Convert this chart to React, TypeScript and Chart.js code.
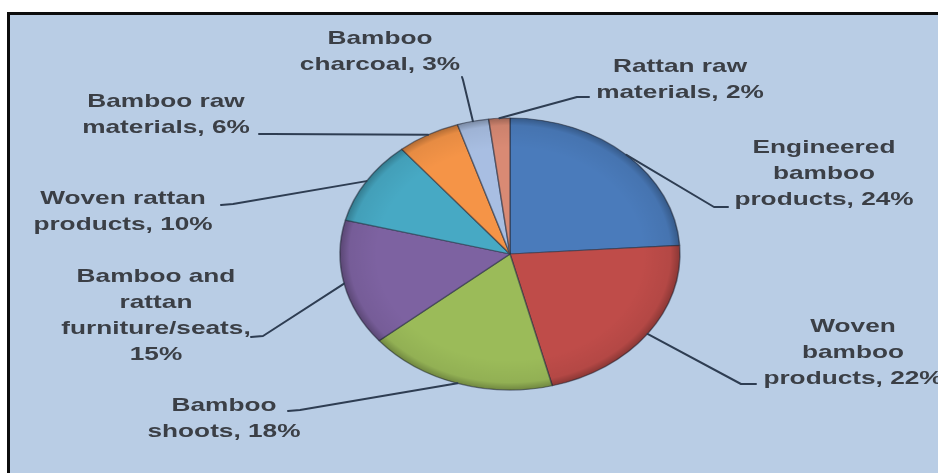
import { useEffect, useRef } from "react";
import { Chart, registerables } from "chart.js";

Chart.register(...registerables);

// Share of bamboo and rattan product exports, by category
const categories = [
  "Engineered bamboo products",
  "Woven bamboo products",
  "Bamboo shoots",
  "Bamboo and rattan furniture/seats",
  "Woven rattan products",
  "Bamboo raw materials",
  "Bamboo charcoal",
  "Rattan raw materials",
];
const shares = [24, 22, 18, 15, 10, 6, 3, 2];
const sliceColors = [
  "#4a7bbb",
  "#bf4c49",
  "#9bbb59",
  "#7d62a1",
  "#47a9c4",
  "#f59447",
  "#a8bee2",
  "#d98a74",
];

// number of words on each line of every label
const labelWraps = [
  [1, 1, 2],
  [1, 1, 2],
  [1, 2],
  [2, 1, 1, 1],
  [2, 2],
  [2, 2],
  [1, 2],
  [2, 2],
];

// label block placement: centre x, first baseline, leader tail and elbow
const labelLayout = [
  { cx: 824, top: 153, tail: [728, 207], elbow: [714, 207] },
  { cx: 853, top: 332, tail: [756, 384], elbow: [741, 384] },
  { cx: 224, top: 411, tail: [288, 411], elbow: [300, 410] },
  { cx: 156, top: 282, tail: [251, 337], elbow: [263, 336] },
  { cx: 123, top: 204, tail: [221, 205], elbow: [233, 204] },
  { cx: 166, top: 107, tail: [259, 134], elbow: [271, 134] },
  { cx: 380, top: 44, tail: [462, 77], elbow: [463, 80] },
  { cx: 680, top: 72, tail: [589, 97], elbow: [577, 97] },
];

const LINE_HEIGHT = 26;
const TEXT_STRETCH = 1.38;
const TILT = 0.8; // vertical squash of the pie (3-D look)

function labelLines(i: number): string[] {
  const words = `${categories[i]}, ${shares[i]}%`.split(" ");
  const out: string[] = [];
  let k = 0;
  for (const n of labelWraps[i]) {
    out.push(words.slice(k, k + n).join(" "));
    k += n;
  }
  return out;
}

const tiltedPie = {
  id: "tiltedPie",
  beforeDatasetsDraw(chart: any) {
    const arc = chart.getDatasetMeta(0).data[0];
    const ctx = chart.ctx;
    ctx.save();
    ctx.translate(arc.x, arc.y);
    ctx.scale(1, TILT);
    ctx.translate(-arc.x, -arc.y);
  },
  afterDatasetsDraw(chart: any) {
    const arc = chart.getDatasetMeta(0).data[0];
    const ctx = chart.ctx;
    const r = arc.outerRadius;
    // darker rim for a rounded look
    const g = ctx.createRadialGradient(arc.x, arc.y, r * 0.78, arc.x, arc.y, r);
    g.addColorStop(0, "rgba(0,0,0,0)");
    g.addColorStop(0.75, "rgba(0,0,0,0.06)");
    g.addColorStop(1, "rgba(0,0,0,0.28)");
    ctx.beginPath();
    ctx.arc(arc.x, arc.y, r, 0, Math.PI * 2);
    ctx.fillStyle = g;
    ctx.fill();
    ctx.restore();
  },
  afterDraw(chart: any) {
    const ctx = chart.ctx;
    const arcs = chart.getDatasetMeta(0).data;
    ctx.save();
    // leader lines
    ctx.strokeStyle = "#2e3d52";
    ctx.lineWidth = 2;
    ctx.lineJoin = "round";
    ctx.lineCap = "round";
    arcs.forEach((a: any, i: number) => {
      const mid = (a.startAngle + a.endAngle) / 2;
      const ex = a.x + a.outerRadius * Math.cos(mid);
      const ey = a.y + a.outerRadius * TILT * Math.sin(mid);
      const L = labelLayout[i];
      ctx.beginPath();
      ctx.moveTo(L.tail[0], L.tail[1]);
      ctx.lineTo(L.elbow[0], L.elbow[1]);
      ctx.lineTo(ex, ey);
      ctx.stroke();
    });
    // labels
    ctx.fillStyle = "#3b3f46";
    ctx.font = "bold 19px 'Liberation Sans', Arial, sans-serif";
    ctx.textAlign = "center";
    ctx.textBaseline = "alphabetic";
    arcs.forEach((_a: any, i: number) => {
      const L = labelLayout[i];
      labelLines(i).forEach((line, j) => {
        ctx.save();
        ctx.translate(L.cx, L.top + j * LINE_HEIGHT);
        ctx.scale(TEXT_STRETCH, 1);
        ctx.fillText(line, 0, 0);
        ctx.restore();
      });
    });
    ctx.restore();
  },
};

export default function App() {
  const ref = useRef<HTMLCanvasElement | null>(null);

  useEffect(() => {
    if (!ref.current) return;
    const chart = new Chart(ref.current, {
      type: "pie",
      data: {
        labels: categories,
        datasets: [
          {
            data: shares,
            backgroundColor: sliceColors,
            borderColor: "rgba(40,48,64,0.55)",
            borderWidth: 1.5,
          },
        ],
      },
      options: {
        responsive: false,
        animation: false,
        radius: 170,
        layout: { padding: { left: 250, right: 168, top: 84, bottom: 49 } },
        plugins: {
          legend: { display: false },
          tooltip: { enabled: false },
        },
      } as any,
      plugins: [tiltedPie],
    });
    return () => chart.destroy();
  }, []);

  return (
    <div
      style={{
        position: "absolute",
        left: 0,
        top: 0,
        width: 938,
        height: 473,
        overflow: "hidden",
        background: "#ffffff",
      }}
    >
      <div
        style={{
          position: "absolute",
          left: 7,
          top: 12,
          width: 945,
          height: 475,
          boxSizing: "border-box",
          background: "#b9cde5",
          borderTop: "3px solid #0d0d0d",
          borderLeft: "3px solid #0d0d0d",
        }}
      />
      <canvas
        ref={ref}
        width={938}
        height={473}
        style={{ position: "absolute", left: 0, top: 0, width: 938, height: 473 }}
      />
    </div>
  );
}
